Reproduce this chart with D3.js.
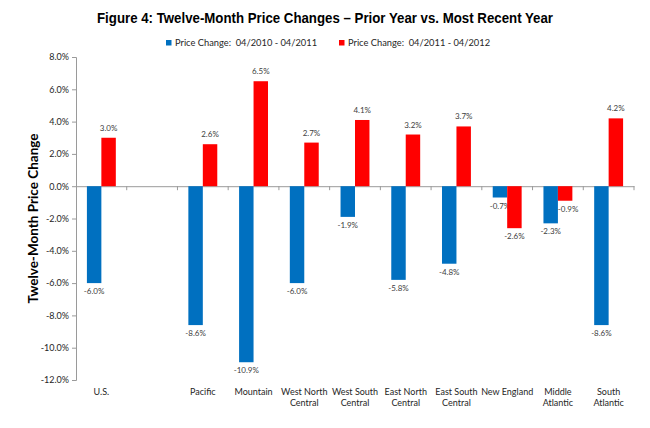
<!DOCTYPE html>
<html><head><meta charset="utf-8">
<script src="https://cdn.jsdelivr.net/npm/d3@7"></script>
<style>body{margin:0;background:#fff}svg{display:block}text{white-space:pre}</style>
</head><body>
<svg id="c" width="650" height="428"></svg>
<script>
const categories = ["U.S.", "", "Pacific", "Mountain", "West North\nCentral", "West South\nCentral", "East North\nCentral", "East South\nCentral", "New England", "Middle\nAtlantic", "South\nAtlantic"];
const seriesNames = ["Price Change:  04/2010 - 04/2011", "Price Change:  04/2011 - 04/2012"];
const prior = [-6.0, null, -8.6, -10.9, -6.0, -1.9, -5.8, -4.8, -0.7, -2.3, -8.6];
const recent = [3.0, null, 2.6, 6.5, 2.7, 4.1, 3.2, 3.7, -2.6, -0.9, 4.2];
const yTicks = [8, 6, 4, 2, 0, -2, -4, -6, -8, -10, -12];
const colors = ["#0070C0", "#FF0000"];

const font = "Lato, 'Liberation Sans', sans-serif";
const svg = d3.select("#c");
const L = 76, R = 634, T = 57, B = 380;

const x = d3.scaleBand().domain(d3.range(categories.length)).range([L, R]).padding(0);
const xs = d3.scaleBand().domain([0, 1]).range([x.bandwidth() * 0.215, x.bandwidth() * 0.785]).padding(0);
const y = d3.scaleLinear().domain([-12, 8]).range([B, T]);

// title
svg.append("text").attr("x", 325).attr("y", 23).attr("text-anchor", "middle")
  .attr("font-family", "'Liberation Sans', Arial, sans-serif").attr("font-weight", "bold")
  .attr("font-size", 15.5).attr("fill", "#000")
  .attr("textLength", 456).attr("lengthAdjust", "spacingAndGlyphs")
  .text("Figure 4: Twelve-Month Price Changes \u2013 Prior Year vs. Most Recent Year");

// legend
const legX = [166, 339];
seriesNames.forEach((n, i) => {
  const g = svg.append("g").attr("transform", `translate(${legX[i]},46)`);
  g.append("rect").attr("x", 0).attr("y", -6).attr("width", 5.5).attr("height", 5.5).attr("fill", colors[i]);
  g.append("text").attr("x", 9).attr("y", 0).attr("font-family", font).attr("font-size", 9.3)
    .attr("fill", "#262626").text(n);
});

// y axis
const yAxis = d3.axisLeft(y).tickValues(yTicks).tickSize(4).tickFormat(d => d.toFixed(1) + "%");
const ga = svg.append("g").attr("transform", `translate(${L},0)`).call(yAxis);
ga.select(".domain").attr("stroke", "#9a9a9a");
ga.selectAll(".tick line").attr("stroke", "#9a9a9a");
ga.selectAll(".tick text").attr("font-family", font).attr("font-size", 9).attr("fill", "#262626").attr("x", -7);

// y title
svg.append("text").attr("transform", `translate(38,${(T + B) / 2}) rotate(-90)`)
  .attr("text-anchor", "middle").attr("font-family", font).attr("font-weight", "bold")
  .attr("font-size", 13.5).attr("fill", "#000").text("Twelve-Month Price Change");

// zero line axis
const xAxis = d3.axisBottom(x).tickValues([]).tickSize(0);
const gx = svg.append("g").attr("transform", `translate(0,${y(0)})`).call(xAxis);
gx.select(".domain").attr("stroke", "#9a9a9a");
d3.range(1, categories.length + 1).forEach(i => {
  const xx = i < categories.length ? x(i) : R;
  svg.append("line").attr("x1", xx).attr("x2", xx).attr("y1", y(0)).attr("y2", y(0) + 4).attr("stroke", "#9a9a9a");
});

// bars
const series = [prior, recent];
series.forEach((vals, si) => {
  vals.forEach((v, ci) => {
    if (v === null) return;
    const bx = x(ci) + xs(si);
    svg.append("rect").attr("x", bx).attr("width", xs.bandwidth())
      .attr("y", y(Math.max(0, v))).attr("height", Math.abs(y(v) - y(0)))
      .attr("fill", colors[si]);
    svg.append("text").attr("x", bx + xs.bandwidth() / 2 + (si === 1 && v < 0 && v > -1.5 ? 3 : 0))
      .attr("y", v >= 0 ? y(v) - 7 : y(v) + 11)
      .attr("text-anchor", "middle").attr("font-family", font).attr("font-size", 8)
      .attr("fill", "#404040").text(v.toFixed(1) + "%");
  });
});

// category labels
categories.forEach((c, i) => {
  const t = svg.append("text").attr("x", x(i) + x.bandwidth() / 2).attr("y", 395)
    .attr("text-anchor", "middle").attr("font-family", font).attr("font-size", 9).attr("fill", "#262626");
  c.split("\n").forEach((line, k) => {
    t.append("tspan").attr("x", x(i) + x.bandwidth() / 2).attr("dy", k === 0 ? 0 : 11).text(line);
  });
});
</script>
</body></html>
